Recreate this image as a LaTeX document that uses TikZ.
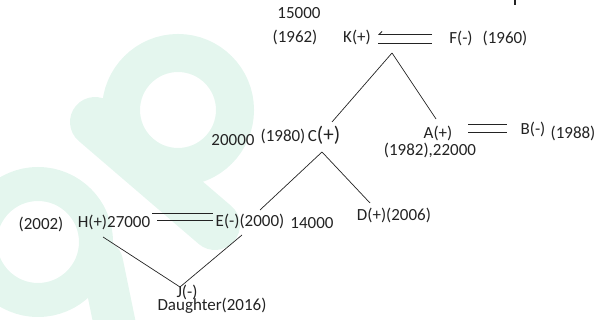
\documentclass[tikz,border=0pt]{standalone}
\usepackage{fontspec}
\setmainfont{Carlito}
\usetikzlibrary{arrows.meta}
\definecolor{logogreen}{RGB}{228,246,238}
\definecolor{ink}{RGB}{35,35,35}

\begin{document}
\begin{tikzpicture}[x=1pt,y=-1pt,
    lbl/.style={inner sep=0pt,text=ink,font=\fontsize{17}{20}\selectfont},
    branch/.style={ink,line width=0.7pt},
    bond/.style={ink,line width=0.9pt}]
    \useasboundingbox (0,0) rectangle (605,320);

    % watermark logo
    \draw[logogreen,line width=50pt,line cap=round] (95,122) -- (215,225);
    \draw[logogreen,line width=38pt] (178,110) circle[radius=57pt];
    \draw[logogreen,line width=42pt,line cap=round] (102,262) -- (118,340);
    \draw[logogreen,line width=34pt] (38,242) circle[radius=58pt];

    % top: K and F
    \node[lbl] (k15000) at (299,13) {15000};
    \node[lbl] (k1962) at (295,37) {(1962)};
    \node[lbl] (k) at (357,37) {K(+)};
    \node[lbl] (f) at (461,38) {F(-)};
    \node[lbl] (f1960) at (505,38) {(1960)};
    \coordinate (kf1) at (432,34.5);
    \coordinate (kf2) at (378,34.5);
    \coordinate (kf3) at (378,43);
    \coordinate (kf4) at (432,43);
    \draw[bond,-{Straight Barb[right,length=3pt,width=6pt]}] (kf1) -- (kf2);
    \draw[bond] (kf3) -- (kf4);

    % cut off letter of the title
    \draw[ink,line width=1.6pt] (515,0) -- (515,5);

    % second row: C, A, B
    \node[lbl] (c20000) at (233,140) {20000};
    \node[lbl] (c1980) at (283,136) {(1980)};
    \node[lbl] (c) at (324,135) {C{\fontsize{21}{24}\selectfont(+)}};
    \node[lbl] (a) at (438,133) {A(+)};
    \node[lbl] (a1982) at (430,150) {(1982),22000};
    \node[lbl] (b) at (533,129) {B(-)};
    \node[lbl] (b1988) at (573,133) {(1988)};
    \coordinate (ab1) at (468,124.5);
    \coordinate (ab2) at (507,124.5);
    \coordinate (ab3) at (468,132);
    \coordinate (ab4) at (507,132);
    \draw[bond] (ab1) -- (ab2);
    \draw[bond] (ab3) -- (ab4);

    % branches from K
    \coordinate (ktop) at (392,53);
    \coordinate (kc) at (332,122);
    \coordinate (ka) at (436,119);
    \draw[branch] (ktop) -- (kc);
    \draw[branch] (ktop) -- (ka);

    % third row: H, E, D
    \node[lbl] (h2002) at (41,224) {(2002)};
    \node[lbl] (h) at (114,222) {H(+)27000};
    \node[lbl] (e) at (250,221) {E(-)(2000)};
    \node[lbl] (e14000) at (312,223) {14000};
    \node[lbl] (d) at (394,215) {D(+)(2006)};
    \coordinate (he1) at (152,213);
    \coordinate (he2) at (213,213);
    \coordinate (he3) at (157,220);
    \coordinate (he4) at (213,220);
    \draw[bond] (he1) -- (he2);
    \draw[bond] (he3) -- (he4);

    % branches from C
    \coordinate (cbot) at (322,152);
    \coordinate (ce) at (260,210);
    \coordinate (cd) at (370,203);
    \draw[branch] (cbot) -- (ce);
    \draw[branch] (cbot) -- (cd);

    % daughter J
    \node[lbl] (j) at (187,292) {J(-)};
    \node[lbl] (jd) at (212,306) {Daughter(2016)};
    \coordinate (jtop) at (180,287);
    \coordinate (hj) at (103,237);
    \coordinate (ej) at (242,235);
    \draw[branch] (hj) -- (jtop);
    \draw[branch] (ej) -- (jtop);
\end{tikzpicture}
\end{document}
